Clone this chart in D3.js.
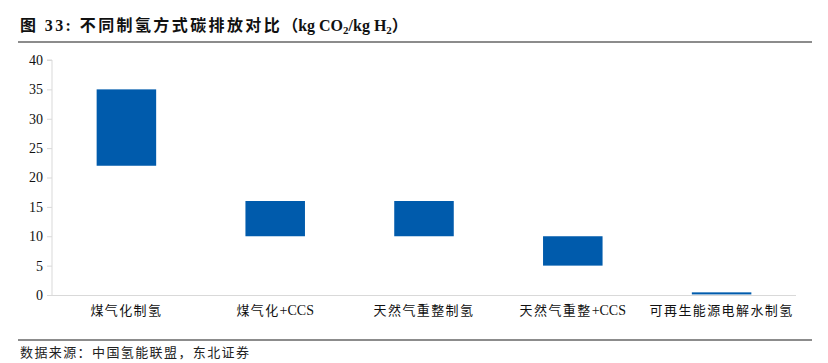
<!DOCTYPE html>
<html>
<head>
<meta charset="utf-8">
<script src="https://cdn.jsdelivr.net/npm/d3@7"></script>
<style>
  body { margin: 0; background: #fff; }
  text { font-family: "Liberation Serif", "Noto Sans CJK SC", serif; }
</style>
</head>
<body>
<div id="chart"></div>
<script>
var categories = ["煤气化制氢", "煤气化+CCS", "天然气重整制氢", "天然气重整+CCS", "可再生能源电解水制氢"];
var lowValues = [22, 10, 10, 5, 0.1];
var highValues = [35, 16, 16, 10, 0.45];
var yTicks = [0, 5, 10, 15, 20, 25, 30, 35, 40];

var W = 828, H = 363;
var margin = {top: 60, right: 32, bottom: 68, left: 52};
var width = W - margin.left - margin.right;
var height = H - margin.top - margin.bottom;

var svg = d3.select("#chart").append("svg")
    .attr("width", W)
    .attr("height", H);

// title and rules
svg.append("text").attr("x", 20).attr("y", 31)
    .style("font-size", "16px").style("font-weight", "bold").style("letter-spacing", "2.4px").attr("fill", "#111")
    .html('图 33:  不同制氢方式碳排放对比<tspan style="letter-spacing:0">（kg CO</tspan><tspan font-size="11" dy="3" style="letter-spacing:0">2</tspan><tspan dy="-3" style="letter-spacing:0">/kg H</tspan><tspan font-size="11" dy="3" style="letter-spacing:0">2</tspan><tspan dy="-3">）</tspan>');
svg.append("line").attr("x1", 18).attr("x2", 812).attr("y1", 42).attr("y2", 42)
    .attr("stroke", "#666").attr("stroke-width", 1.5);
svg.append("line").attr("x1", 18).attr("x2", 812).attr("y1", 340).attr("y2", 340)
    .attr("stroke", "#666").attr("stroke-width", 1.5);
svg.append("text").attr("x", 20).attr("y", 357)
    .style("font-size", "13px").style("letter-spacing", "1.4px").attr("fill", "#222")
    .text("数据来源：中国氢能联盟，东北证券");

var g = svg.append("g").attr("transform", "translate(" + margin.left + "," + margin.top + ")");

var xScale = d3.scaleBand().domain(categories).range([0, width]).paddingInner(0.6).paddingOuter(0.3);
var yScale = d3.scaleLinear().domain([0, 40]).range([height, 0]);

var yAxis = d3.axisLeft(yScale).tickValues(yTicks).tickSize(5).tickPadding(4);
var yg = g.append("g").call(yAxis);
yg.select(".domain").attr("stroke", "#d9d9d9").attr("d", "M-5," + yScale(40) + "H0V" + height);
yg.selectAll(".tick line").attr("stroke", "#d9d9d9");
yg.selectAll(".tick text").style("font-size", "14px").attr("fill", "#111")
    .style("font-family", "Liberation Serif, serif");

var xAxis = d3.axisBottom(xScale).tickSize(0).tickPadding(11);
var xg = g.append("g").attr("transform", "translate(0," + height + ")").call(xAxis);
xg.select(".domain").attr("stroke", "#d9d9d9").attr("d", "M0,0.5H" + width);
// spread the Chinese part, keep "+CCS" tight
xg.selectAll(".tick text").style("font-size", "13px").attr("fill", "#111")
    .style("font-family", "Liberation Serif, Noto Sans CJK SC, serif")
    .each(function(d) {
      var t = d3.select(this).text("");
      var parts = d.split("+");
      t.append("tspan").style("letter-spacing", "1.4px").text(parts[0]);
      if (parts[1]) t.append("tspan").style("font-size", "14px").text("+" + parts[1]);
    });

g.selectAll("rect.bar").data(categories).enter().append("rect")
    .attr("class", "bar")
    .attr("x", function(d) { return xScale(d); })
    .attr("width", xScale.bandwidth())
    .attr("y", function(d, i) { return yScale(highValues[i]); })
    .attr("height", function(d, i) { return yScale(lowValues[i]) - yScale(highValues[i]); })
    .attr("fill", "#005bac");
</script>
</body>
</html>
